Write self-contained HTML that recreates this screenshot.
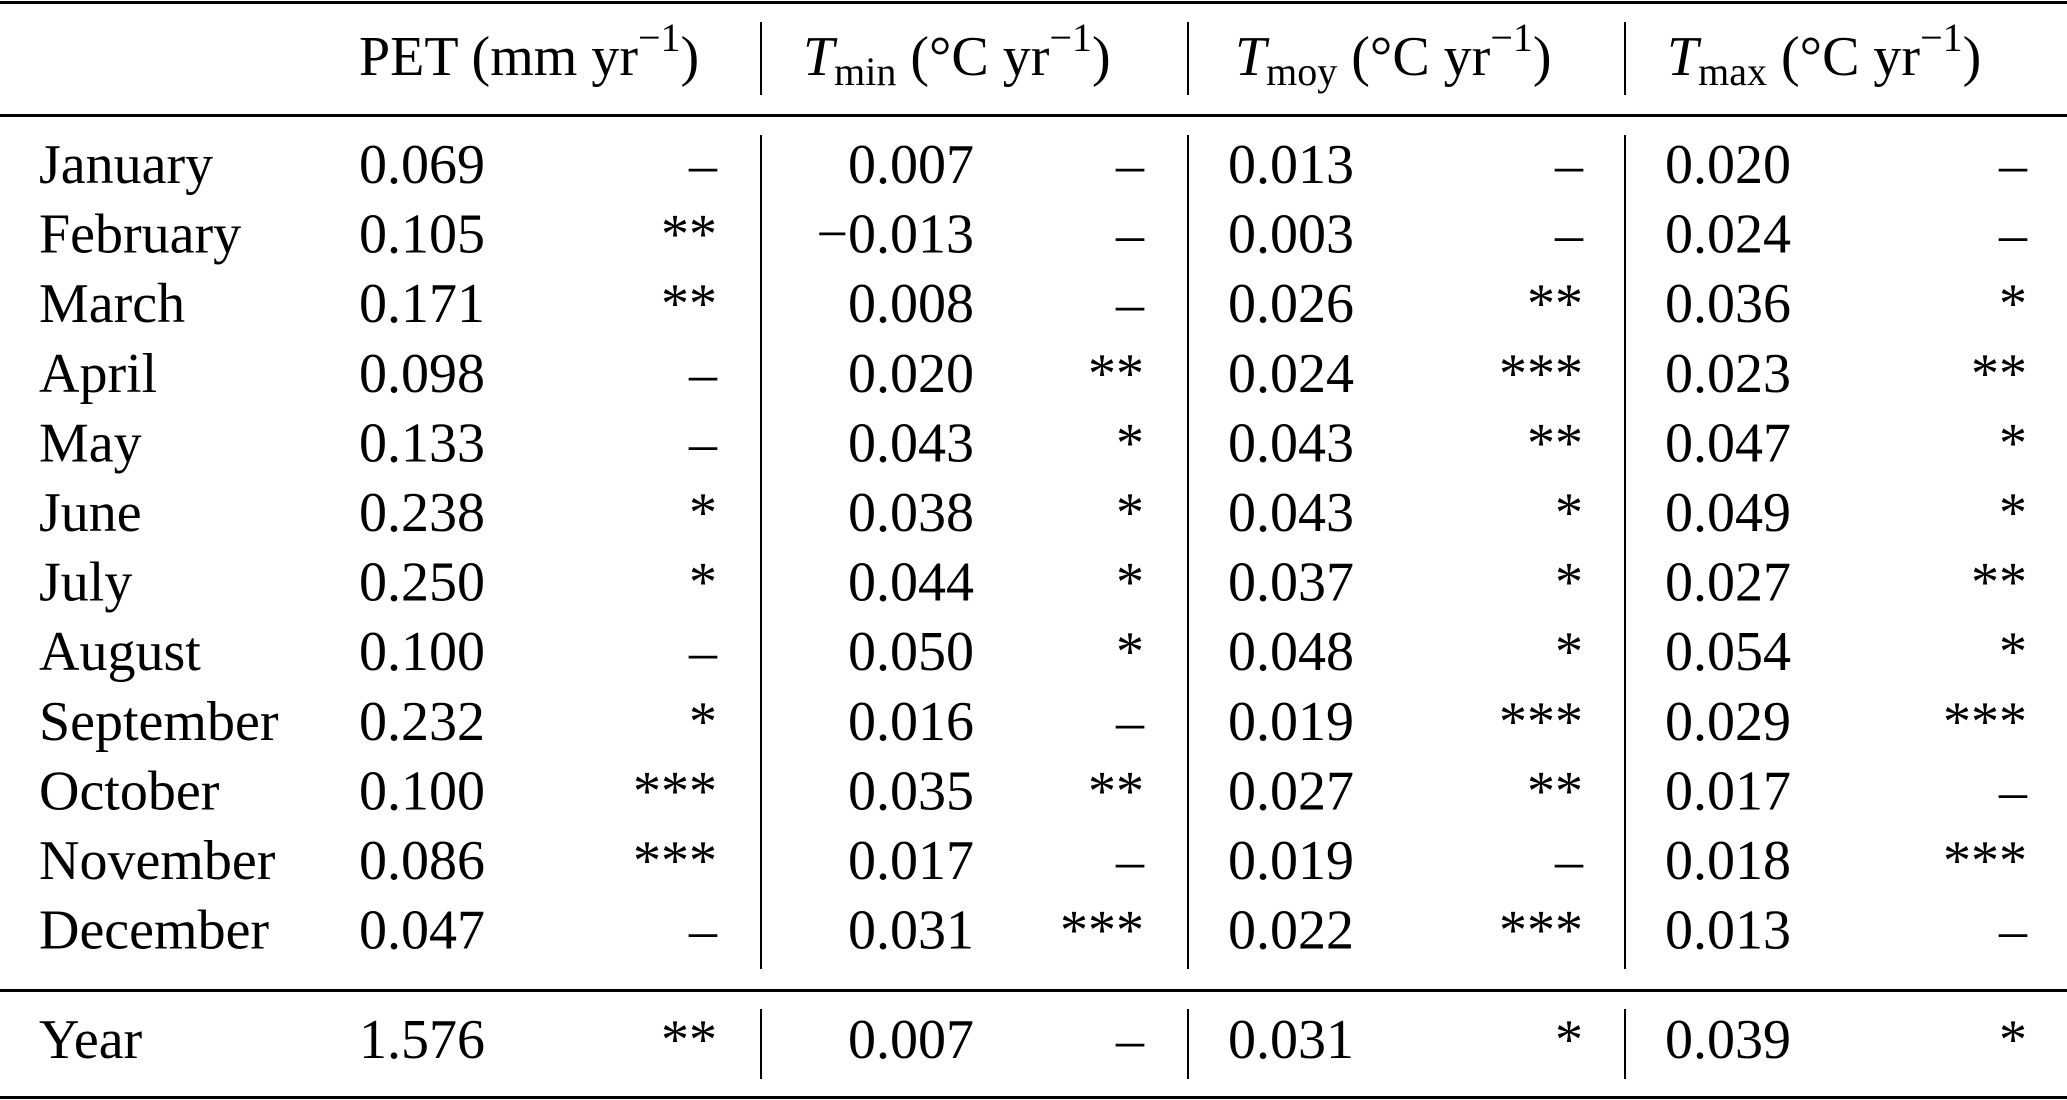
<!DOCTYPE html>
<html><head><meta charset="utf-8"><style>
html,body{margin:0;padding:0;background:#fff;}
svg{display:block;font-family:"Liberation Serif","DejaVu Serif",serif;}
</style></head><body>
<svg width="2067" height="1100" viewBox="0 0 2067 1100">
<g id="rules">
<rect x="0" y="1" width="2067" height="3" fill="#000"/>
<rect x="0" y="114" width="2067" height="3" fill="#000"/>
<rect x="0" y="989" width="2067" height="3" fill="#000"/>
<rect x="0" y="1096" width="2067" height="3" fill="#000"/>
</g>
<g font-size="56" fill="#000">
<text x="359" y="75">PET (mm yr<tspan font-size="40" dy="-24">−1</tspan><tspan dy="24">)</tspan></text>
<text x="803" y="75"><tspan font-style="italic">T</tspan><tspan font-size="40" dy="10">min</tspan><tspan dy="-10"> (°C yr</tspan><tspan font-size="40" dy="-24">−1</tspan><tspan dy="24">)</tspan></text>
<text x="1235" y="75"><tspan font-style="italic">T</tspan><tspan font-size="40" dy="10">moy</tspan><tspan dy="-10"> (°C yr</tspan><tspan font-size="40" dy="-24">−1</tspan><tspan dy="24">)</tspan></text>
<text x="1667" y="75"><tspan font-style="italic">T</tspan><tspan font-size="40" dy="10">max</tspan><tspan dy="-10"> (°C yr</tspan><tspan font-size="40" dy="-24">−1</tspan><tspan dy="24">)</tspan></text>
</g>
<g id="body" font-size="56" fill="#000"></g>
</svg>
<script>
const months=["January","February","March","April","May","June","July","August","September","October","November","December"];
const pet=["0.069","0.105","0.171","0.098","0.133","0.238","0.250","0.100","0.232","0.100","0.086","0.047"];
const petSig=["–","**","**","–","–","*","*","–","*","***","***","–"];
const tmin=["0.007","−0.013","0.008","0.020","0.043","0.038","0.044","0.050","0.016","0.035","0.017","0.031"];
const tminSig=["–","–","–","**","*","*","*","*","–","**","–","***"];
const tmoy=["0.013","0.003","0.026","0.024","0.043","0.043","0.037","0.048","0.019","0.027","0.019","0.022"];
const tmoySig=["–","–","**","***","**","*","*","*","***","**","–","***"];
const tmax=["0.020","0.024","0.036","0.023","0.047","0.049","0.027","0.054","0.029","0.017","0.018","0.013"];
const tmaxSig=["–","–","*","**","*","*","**","*","***","–","***","–"];
const yearRow=["Year","1.576","**","0.007","–","0.031","*","0.039","*"];
const NS="http://www.w3.org/2000/svg";
const body=document.getElementById("body");
function txt(s,x,y,anchor,name){
  const t=document.createElementNS(NS,"text");
  t.setAttribute("x",x);t.setAttribute("y",y);
  if(anchor)t.setAttribute("text-anchor",anchor);
  t.textContent=s;
  
  
  body.appendChild(t);
}
function vline(x,y1,y2){
  const l=document.createElementNS(NS,"rect");
  l.setAttribute("x",x-1);l.setAttribute("y",y1);l.setAttribute("width",2);l.setAttribute("height",y2-y1);
  
  
  body.appendChild(l);
}
function row(vals,y){
  txt(vals[0],39,y,null,"row-label");
  txt(vals[1],359,y,null,"pet-value");
  txt(vals[2],717,y,"end","pet-significance");
  txt(vals[3],974,y,"end","tmin-value");
  txt(vals[4],1144,y,"end","tmin-significance");
  txt(vals[5],1228,y,null,"tmoy-value");
  txt(vals[6],1583,y,"end","tmoy-significance");
  txt(vals[7],1665,y,null,"tmax-value");
  txt(vals[8],2027,y,"end","tmax-significance");
}
const y0=183,dy=69.6;
months.forEach((m,i)=>row([m,pet[i],petSig[i],tmin[i],tminSig[i],tmoy[i],tmoySig[i],tmax[i],tmaxSig[i]],y0+i*dy));
row(yearRow,1058);
[761,1188,1625].forEach(x=>{vline(x,22,95);vline(x,135,969);vline(x,1009,1079);});
</script>
</body></html>
